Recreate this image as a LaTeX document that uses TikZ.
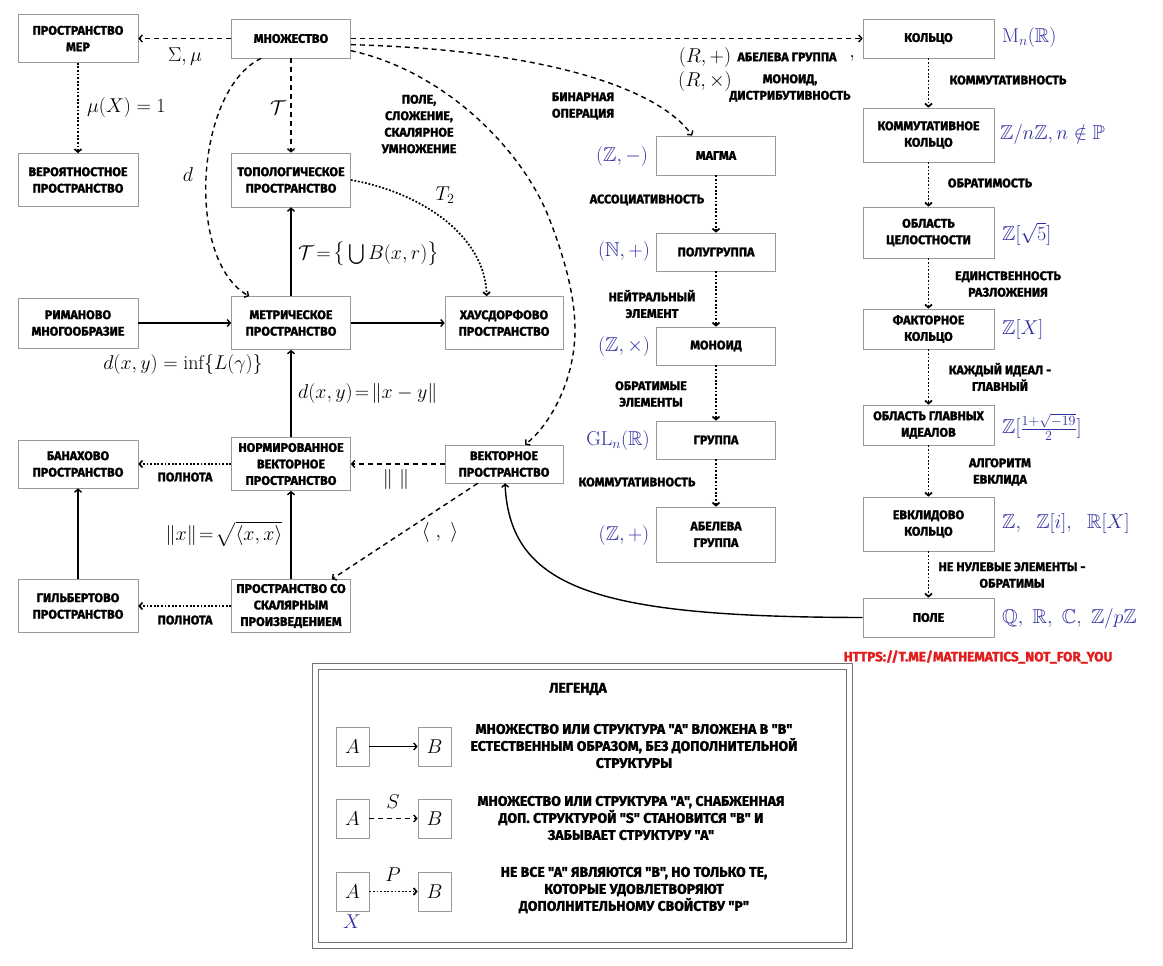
\RequirePackage{fix-cm}
\documentclass[tikz,border=0pt]{standalone}
\usepackage{amsmath,amssymb}
\usepackage{fontspec}
\usetikzlibrary{arrows.meta,calc}
\newfontfamily\hv{Fira Sans}[BoldFeatures={FakeBold=1.6}]
\definecolor{mblue}{RGB}{45,45,160}
\definecolor{urlred}{RGB}{225,30,30}
\begin{document}
\begin{tikzpicture}[x=1pt,y=-1pt,
 box/.style={draw=black!40,line width=0.7pt,fill=white,align=center,font=\hv\bfseries\fontsize{12.5}{16.5}\selectfont,inner sep=0pt},
 lbl/.style={align=center,font=\hv\bfseries\fontsize{12.5}{16.5}\selectfont,inner sep=0pt},
 leglbl/.style={align=center,font=\hv\bfseries\fontsize{14}{17}\selectfont,inner sep=0pt},
 mth/.style={font=\fontsize{20}{22}\selectfont,inner sep=0pt},
 ex/.style={mth,text=mblue,anchor=west},
 conn/.style={line width=1.4pt,-{Straight Barb[length=3pt,width=7pt]}},
 dashc/.style={conn,dash pattern=on 5pt off 4pt},
 dotc/.style={conn,line width=1.7pt,dash pattern=on 1.8pt off 1.8pt},
]
\useasboundingbox (0,0) rectangle (1163,966);
% left part
\node[box,minimum width=120pt,minimum height=48pt] (mer) at (78,38.5) {ПРОСТРАНСТВО\\МЕР};
\node[box,minimum width=119pt,minimum height=39pt] (mnoz) at (291,38.5) {МНОЖЕСТВО};
\node[box,minimum width=120pt,minimum height=53pt] (ver) at (78,180) {ВЕРОЯТНОСТНОЕ\\ПРОСТРАНСТВО};
\node[box,minimum width=119pt,minimum height=54pt] (top) at (291,180) {ТОПОЛОГИЧЕСКОЕ\\ПРОСТРАНСТВО};
\node[box,minimum width=120pt,minimum height=50pt] (rim) at (78,323) {РИМАНОВО\\МНОГООБРАЗИЕ};
\node[box,minimum width=119pt,minimum height=53pt] (met) at (291,323) {МЕТРИЧЕСКОЕ\\ПРОСТРАНСТВО};
\node[box,minimum width=118pt,minimum height=53pt] (hau) at (504,323) {ХАУСДОРФОВО\\ПРОСТРАНСТВО};
\node[box,minimum width=120pt,minimum height=48pt] (ban) at (78,464) {БАНАХОВО\\ПРОСТРАНСТВО};
\node[box,minimum width=119pt,minimum height=53pt] (norm) at (291,464) {НОРМИРОВАННОЕ\\ВЕКТОРНОЕ\\ПРОСТРАНСТВО};
\node[box,minimum width=118pt,minimum height=38pt] (vek) at (504,464) {ВЕКТОРНОЕ\\ПРОСТРАНСТВО};
\node[box,minimum width=120pt,minimum height=53pt] (gil) at (78,606) {ГИЛЬБЕРТОВО\\ПРОСТРАНСТВО};
\node[box,minimum width=119pt,minimum height=53pt] (sko) at (291,606) {ПРОСТРАНСТВО СО\\СКАЛЯРНЫМ\\ПРОИЗВЕДЕНИЕМ};
% middle column
\node[box,minimum width=119pt,minimum height=39pt] (magma) at (716,155.5) {МАГМА};
\node[box,minimum width=119pt,minimum height=38pt] (polu) at (716,252) {ПОЛУГРУППА};
\node[box,minimum width=119pt,minimum height=38pt] (mon) at (716,346) {МОНОИД};
\node[box,minimum width=119pt,minimum height=38pt] (grp) at (716,440) {ГРУППА};
\node[box,minimum width=119pt,minimum height=55pt] (ab) at (716,534.5) {АБЕЛЕВА\\ГРУППА};
% right column
\node[box,minimum width=131pt,minimum height=39pt] (kol) at (928.5,38.5) {КОЛЬЦО};
\node[box,minimum width=131pt,minimum height=54pt] (kk) at (928.5,135) {КОММУТАТИВНОЕ\\КОЛЬЦО};
\node[box,minimum width=131pt,minimum height=51pt] (oc) at (928.5,232.5) {ОБЛАСТЬ\\ЦЕЛОСТНОСТИ};
\node[box,minimum width=131pt,minimum height=40pt] (fk) at (928.5,329) {ФАКТОРНОЕ\\КОЛЬЦО};
\node[box,minimum width=131pt,minimum height=40pt] (ogi) at (928.5,425) {ОБЛАСТЬ ГЛАВНЫХ\\ИДЕАЛОВ};
\node[box,minimum width=131pt,minimum height=54pt] (evk) at (928.5,524) {ЕВКЛИДОВО\\КОЛЬЦО};
\node[box,minimum width=131pt,minimum height=39pt] (pole) at (928.5,617.5) {ПОЛЕ};
% connectors
\draw[dashc] (mnoz.west) -- (mer.east);
\draw[dotc] (mer.south) -- (ver.north);
\draw[dashc] (mnoz.south) -- (top.north);
\draw[dashc] ($(mnoz.south west)+(30,0)$) .. controls (195,90) and (185,260) .. ($(met.north west)+(18,0)$);
\draw[dashc] ($(mnoz.north east)+(0,32)$) .. controls (440,70) and (517,143) .. (547,213) .. controls (567,263) and (575,300) .. (575,330) .. controls (575,380) and (550,425) .. ($(vek.north)+(21,0)$);
\draw[dashc] ($(mnoz.north east)+(0,26)$) .. controls (550,50) and (660,90) .. ($(magma.north west)+(36,0)$);
\draw[dashc] (mnoz.east) -- (kol.west);
\draw[dotc] (top.east) .. controls (420,192) and (485,235) .. ($(hau.north west)+(42,0)$);
\draw[conn] (met.north) -- (top.south);
\draw[conn] (rim.east) -- (met.west);
\draw[conn] (met.east) -- (hau.west);
\draw[conn] (norm.north) -- (met.south);
\draw[dashc] (vek.west) -- (norm.east);
\draw[dotc] (norm.west) -- (ban.east);
\draw[dashc] ($(vek.south west)+(33,0)$) -- ($(sko.north east)+(-19,0)$);
\draw[conn] (sko.north) -- (norm.south);
\draw[conn] (gil.north) -- (ban.south);
\draw[dotc] (sko.west) -- (gil.east);
\draw[conn] (pole.west) .. controls (600,617) and (510,590) .. ($(vek.south)+(1,0)$);
\draw[dotc] (magma.south) -- (polu.north);
\draw[dotc] (polu.south) -- (mon.north);
\draw[dotc] (mon.south) -- (grp.north);
\draw[dotc] (grp.south) -- (ab.north);
\draw[dotc] (kol.south) -- (kk.north);
\draw[dotc] (kk.south) -- (oc.north);
\draw[dotc] (oc.south) -- (fk.north);
\draw[dotc] (fk.south) -- (ogi.north);
\draw[dotc] (ogi.south) -- (evk.north);
\draw[dotc] (evk.south) -- (pole.north);
% labels left part
\node[mth] (l1) at (185,57) {$\Sigma,\mu$};
\node[mth,anchor=west] (l2) at (87,108) {$\mu(X)=1$};
\node[mth] (l3) at (278,108) {$\mathcal{T}$};
\node[mth] (l4) at (188,175) {$d$};
\node[lbl] (l5) at (419,124) {ПОЛЕ,\\СЛОЖЕНИЕ,\\СКАЛЯРНОЕ\\УМНОЖЕНИЕ};
\node[lbl] (l6) at (583,106) {БИНАРНАЯ\\ОПЕРАЦИЯ};
\node[mth] (l7) at (445,195) {$T_2$};
\node[mth,anchor=west] (l8) at (298,254) {$\mathcal{T}\!=\!\big\{\bigcup B(x,r)\big\}$};
\node[mth] (l9) at (183,364) {$d(x,y)=\inf\{L(\gamma)\}$};
\node[mth,anchor=west] (l10) at (298,393) {$d(x,y)\!=\!\|x-y\|$};
\node[lbl] (l11) at (185,477) {ПОЛНОТА};
\node[mth] (l12) at (396,479) {$\|\ \|$};
\node[mth] (l13) at (224,534) {$\|x\|\!=\!\sqrt{\langle x,x\rangle}$};
\node[mth] (l14) at (440,532) {$\langle\ ,\ \rangle$};
\node[lbl] (l15) at (185,620) {ПОЛНОТА};
% ring label
\node[mth] (r1) at (705,58) {$(R,+)$};
\node[mth] (r2) at (705,82) {$(R,\times)$};
\node[lbl] (r3) at (787,57) {АБЕЛЕВА ГРУППА};
\node[mth] (r4) at (852,58) {$,$};
\node[lbl] (r5) at (790,88) {МОНОИД,\\ДИСТРИБУТИВНОСТЬ};
% middle column labels
\node[mth,text=mblue] (m1) at (622,157) {$(\mathbb{Z},-)$};
\node[lbl] (m2) at (647,200) {АССОЦИАТИВНОСТЬ};
\node[mth,text=mblue] (m3) at (624,251) {$(\mathbb{N},+)$};
\node[lbl] (m4) at (652,304) {НЕЙТРАЛЬНЫЙ\\ЭЛЕМЕНТ};
\node[mth,text=mblue] (m5) at (624,346) {$(\mathbb{Z},\times)$};
\node[lbl] (m6) at (651,394) {ОБРАТИМЫЕ\\ЭЛЕМЕНТЫ};
\node[mth,text=mblue] (m7) at (618,440) {$\mathrm{GL}_n(\mathbb{R})$};
\node[lbl] (m8) at (637,482) {КОММУТАТИВНОСТЬ};
\node[mth,text=mblue] (m9) at (624,535) {$(\mathbb{Z},+)$};
% right column labels
\node[ex] (e1) at (1002,38) {$\mathrm{M}_n(\mathbb{R})$};
\node[lbl] (e2) at (1008,80) {КОММУТАТИВНОСТЬ};
\node[ex] (e3) at (1000,135) {$\mathbb{Z}/n\mathbb{Z},n\notin\mathbb{P}$};
\node[lbl] (e4) at (990,183) {ОБРАТИМОСТЬ};
\node[ex] (e5) at (1002,234) {$\mathbb{Z}[\sqrt{5}]$};
\node[lbl] (e6) at (1008,284) {ЕДИНСТВЕННОСТЬ\\РАЗЛОЖЕНИЯ};
\node[ex] (e7) at (1002,329) {$\mathbb{Z}[X]$};
\node[lbl] (e8) at (1000,377) {КАЖДЫЙ ИДЕАЛ -\\ГЛАВНЫЙ};
\node[ex] (e9) at (1002,427) {$\mathbb{Z}[\frac{1+\sqrt{-19}}{2}]$};
\node[lbl] (e10) at (1000,472) {АЛГОРИТМ\\ЕВКЛИДА};
\node[ex] (e11) at (1002,523) {$\mathbb{Z},\ \ \mathbb{Z}[i],\ \ \mathbb{R}[X]$};
\node[lbl] (e12) at (1012,575) {НЕ НУЛЕВЫЕ ЭЛЕМЕНТЫ -\\ОБРАТИМЫ};
\node[ex] (e13) at (1002,618) {$\mathbb{Q},\ \mathbb{R},\ \mathbb{C},\ \mathbb{Z}/p\mathbb{Z}$};
\node[lbl,text=urlred,font=\hv\bfseries\fontsize{13.5}{15}\selectfont] (url) at (978,657) {HTTPS://T.ME/MATHEMATICS\_NOT\_FOR\_YOU};
% legend
\draw[black!55,line width=1pt] (312,663) rectangle (852,948);
\draw[black!55,line width=1pt] (318,669) rectangle (846,942);
\node[leglbl] (leg) at (578,689) {ЛЕГЕНДА};
\node[box,minimum width=33pt,minimum height=39pt,font=\fontsize{20}{22}\selectfont] (la1) at (352.5,746.5) {$A$};
\node[box,minimum width=33pt,minimum height=39pt,font=\fontsize{20}{22}\selectfont] (lb1) at (434.5,746.5) {$B$};
\node[box,minimum width=33pt,minimum height=39pt,font=\fontsize{20}{22}\selectfont] (la2) at (352.5,818.5) {$A$};
\node[box,minimum width=33pt,minimum height=39pt,font=\fontsize{20}{22}\selectfont] (lb2) at (434.5,818.5) {$B$};
\node[box,minimum width=33pt,minimum height=39pt,font=\fontsize{20}{22}\selectfont] (la3) at (352.5,891.5) {$A$};
\node[box,minimum width=33pt,minimum height=39pt,font=\fontsize{20}{22}\selectfont] (lb3) at (434.5,891.5) {$B$};
\draw[conn] (la1) -- (lb1);
\draw[dashc] (la2) -- (lb2);
\draw[dotc] (la3) -- (lb3);
\node[mth] (ls) at (393,802) {$S$};
\node[mth] (lp) at (393,875) {$P$};
\node[mth,text=mblue] (lx) at (352,922) {$X$};
\node[leglbl] (t1) at (634,746) {МНОЖЕСТВО ИЛИ СТРУКТУРА "А" ВЛОЖЕНА В "В"\\ЕСТЕСТВЕННЫМ ОБРАЗОМ, БЕЗ ДОПОЛНИТЕЛЬНОЙ\\СТРУКТУРЫ};
\node[leglbl] (t2) at (631,818) {МНОЖЕСТВО ИЛИ СТРУКТУРА "А", СНАБЖЕННАЯ\\ДОП. СТРУКТУРОЙ "S" СТАНОВИТСЯ "В" И\\ЗАБЫВАЕТ СТРУКТУРУ "А"};
\node[leglbl] (t3) at (634,890) {НЕ ВСЕ "А" ЯВЛЯЮТСЯ "В", НО ТОЛЬКО ТЕ,\\КОТОРЫЕ УДОВЛЕТВОРЯЮТ\\ДОПОЛНИТЕЛЬНОМУ СВОЙСТВУ "Р"};
\end{tikzpicture}
\end{document}
